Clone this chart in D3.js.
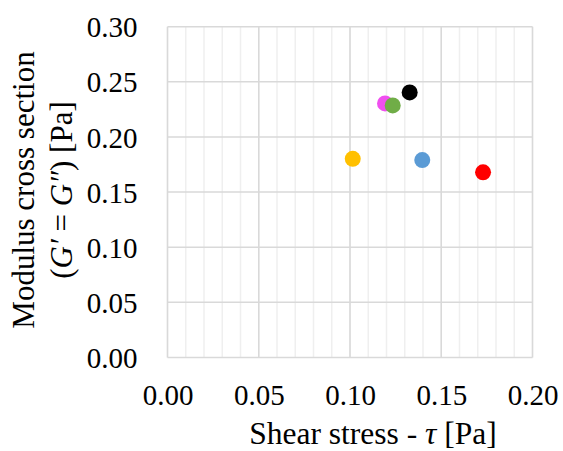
<!DOCTYPE html>
<html>
<head>
<meta charset="utf-8">
<script src="https://cdn.jsdelivr.net/npm/d3@7/dist/d3.min.js"></script>
</head>
<body style="margin:0">
<svg id="chart" width="563" height="451"></svg>
<script>
// Data
const seriesNames = ["Magenta", "Green", "Black", "Yellow", "Blue", "Red"];
const shearStress = [0.1192, 0.1234, 0.1327, 0.1015, 0.1396, 0.1729];
const modulusCross = [0.2304, 0.2286, 0.2404, 0.1802, 0.1790, 0.1679];
const pointColors = ["#f04ff0", "#70ad47", "#000000", "#ffc000", "#5b9bd5", "#ff0000"];
const xTicks = [0.00, 0.05, 0.10, 0.15, 0.20];
const yTicks = [0.00, 0.05, 0.10, 0.15, 0.20, 0.25, 0.30];
const xMinorTicks = d3.range(0, 0.2001, 0.01);

const svg = d3.select("#chart");
const L = 167.5, R = 532.5, T = 26.7, B = 357.5;
const x = d3.scaleLinear().domain([0, 0.2]).range([L, R]);
const y = d3.scaleLinear().domain([0, 0.3]).range([B, T]);

// minor vertical grid
svg.append("g").selectAll("line").data(xMinorTicks).join("line")
  .attr("x1", d => x(d)).attr("x2", d => x(d)).attr("y1", T).attr("y2", B)
  .attr("stroke", "#efefef").attr("stroke-width", 1.5);
// major vertical grid
svg.append("g").selectAll("line").data(xTicks).join("line")
  .attr("x1", d => x(d)).attr("x2", d => x(d)).attr("y1", T).attr("y2", B)
  .attr("stroke", "#d9d9d9").attr("stroke-width", 1.5);
// major horizontal grid
svg.append("g").selectAll("line").data(yTicks).join("line")
  .attr("x1", L).attr("x2", R).attr("y1", d => y(d)).attr("y2", d => y(d))
  .attr("stroke", "#d9d9d9").attr("stroke-width", 1.5);

// Axes labels via d3 axes
const fmt = d3.format(".2f");
const xAxis = svg.append("g").attr("transform", `translate(0,${B})`)
  .call(d3.axisBottom(x).tickValues(xTicks).tickFormat(fmt).tickSize(0).tickPadding(0));
xAxis.attr("font-family", "Liberation Serif").attr("font-size", 29);
xAxis.select(".domain").remove();
xAxis.selectAll("text").attr("dy", null).attr("y", 47)
  .style("font-family", "Liberation Serif").style("font-size", "29px").style("fill", "#000");

const yAxis = svg.append("g").attr("transform", `translate(${L},0)`)
  .call(d3.axisLeft(y).tickValues(yTicks).tickFormat(fmt).tickSize(0).tickPadding(0));
yAxis.attr("font-family", "Liberation Serif").attr("font-size", 29);
yAxis.select(".domain").remove();
yAxis.selectAll("text").attr("x", -30).attr("dy", "0.35em")
  .style("font-family", "Liberation Serif").style("font-size", "29px").style("fill", "#000");

// points
svg.append("g").selectAll("circle").data(seriesNames).join("circle")
  .attr("cx", (d, i) => x(shearStress[i]))
  .attr("cy", (d, i) => y(modulusCross[i]))
  .attr("r", 8)
  .attr("fill", (d, i) => pointColors[i]);

// X title
svg.append("text").attr("x", 373).attr("y", 444).attr("text-anchor", "middle")
  .style("font-family", "Liberation Serif").style("font-size", "31.5px")
  .html('Shear stress - <tspan font-style="italic">τ</tspan> [Pa]');

// Y title
const yt = svg.append("g").attr("transform", "translate(0,190) rotate(-90)");
yt.append("text").attr("x", 0).attr("y", 34).attr("text-anchor", "middle")
  .style("font-family", "Liberation Serif").style("font-size", "31px").text("Modulus cross section");
yt.append("text").attr("x", 0).attr("y", 72).attr("text-anchor", "middle")
  .style("font-family", "Liberation Serif").style("font-size", "31px")
  .html('(<tspan font-style="italic">G′</tspan> = <tspan font-style="italic">G″</tspan>) [Pa]');
</script>
</body>
</html>
